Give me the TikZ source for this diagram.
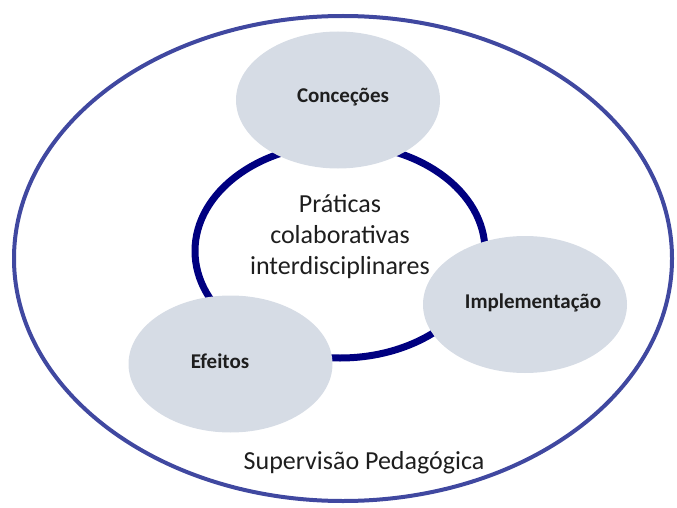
\documentclass[tikz,border=0pt]{standalone}
\usepackage{fontspec}
\setmainfont{Carlito}
\usetikzlibrary{shapes.geometric}
\definecolor{ringblue}{RGB}{64,72,160}
\definecolor{navy}{RGB}{0,0,128}
\definecolor{bubble}{RGB}{214,220,229}
\definecolor{ink}{RGB}{30,30,30}
\tikzset{
	bubblenode/.style={ellipse,fill=bubble,minimum width=204pt,minimum height=137pt,inner sep=0pt},
	labelnode/.style={text=ink,font=\fontsize{21}{25}\selectfont\bfseries,inner sep=0pt}
}
\begin{document}
\begin{tikzpicture}[x=1pt,y=-1pt]
					\useasboundingbox (0,0) rectangle (677,508);
					\node[ellipse,draw=ringblue,line width=4pt,minimum width=658pt,minimum height=485pt,inner sep=0pt] (supervisao) at (343,258.5) {};
					\node[ellipse,draw=navy,line width=7pt,minimum width=290pt,minimum height=214pt,inner sep=0pt] (praticas) at (340,251) {};
					\node[bubblenode] (concecoes) at (338,100) {};
					\node[bubblenode] (implementacao) at (525,304.5) {};
					\node[bubblenode] (efeitos) at (230.5,364) {};
					\node[labelnode] (concecoesTxt) at (343,97) {Conceções};
					\node[labelnode] (implementacaoTxt) at (533,303) {Implementação};
					\node[labelnode] (efeitosTxt) at (220,361) {Efeitos};
					\node[text=ink,align=center,font=\fontsize{26}{31}\selectfont,inner sep=0pt] (praticasTxt) at (340,237) {Práticas\\colaborativas\\interdisciplinares};
					\node[text=ink,font=\fontsize{26}{31}\selectfont,inner sep=0pt] (supervisaoTxt) at (364,463) {Supervisão Pedagógica};
\end{tikzpicture}
\end{document}
